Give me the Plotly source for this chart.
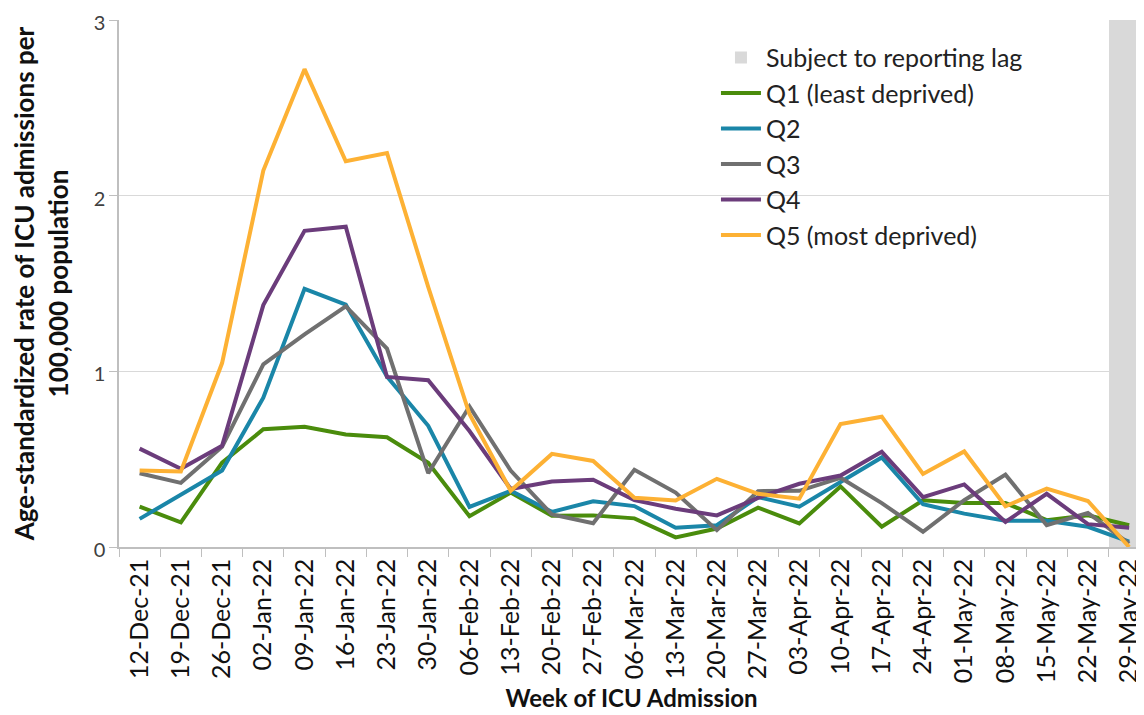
import plotly.graph_objects as go

weeks = ["12-Dec-21", "19-Dec-21", "26-Dec-21", "02-Jan-22", "09-Jan-22", "16-Jan-22",
         "23-Jan-22", "30-Jan-22", "06-Feb-22", "13-Feb-22", "20-Feb-22", "27-Feb-22",
         "06-Mar-22", "13-Mar-22", "20-Mar-22", "27-Mar-22", "03-Apr-22", "10-Apr-22",
         "17-Apr-22", "24-Apr-22", "01-May-22", "08-May-22", "15-May-22", "22-May-22",
         "29-May-22"]

q1 = [0.23, 0.14, 0.48, 0.67, 0.685, 0.64, 0.625, 0.48, 0.175, 0.31, 0.178, 0.18,
      0.163, 0.055, 0.105, 0.224, 0.134, 0.345, 0.115, 0.266, 0.25, 0.25, 0.153, 0.18, 0.124]
q2 = [0.16, 0.30, 0.435, 0.85, 1.47, 1.38, 0.97, 0.69, 0.228, 0.32, 0.20, 0.26,
      0.233, 0.11, 0.124, 0.284, 0.23, 0.37, 0.51, 0.243, 0.19, 0.149, 0.149, 0.115, 0.03]
q3 = [0.42, 0.365, 0.57, 1.04, 1.21, 1.37, 1.13, 0.42, 0.80, 0.435, 0.185, 0.135,
      0.44, 0.31, 0.096, 0.318, 0.32, 0.394, 0.25, 0.087, 0.266, 0.412, 0.124, 0.194, 0.02]
q4 = [0.56, 0.445, 0.576, 1.377, 1.80, 1.823, 0.968, 0.949, 0.66, 0.33, 0.373, 0.383,
      0.267, 0.218, 0.18, 0.28, 0.36, 0.407, 0.542, 0.284, 0.356, 0.143, 0.303, 0.13, 0.11]
q5 = [0.435, 0.43, 1.047, 2.143, 2.72, 2.196, 2.243, 1.48, 0.757, 0.32, 0.53, 0.49,
      0.28, 0.265, 0.388, 0.303, 0.275, 0.70, 0.742, 0.416, 0.544, 0.232, 0.332, 0.262, 0.0]

lag_weeks = ["29-May-22"]
lag_top = [3]

series = [
    ("Q1 (least deprived)", q1, "#4a8c0c"),
    ("Q2", q2, "#1a86a8"),
    ("Q3", q3, "#707070"),
    ("Q4", q4, "#6b3c7b"),
    ("Q5 (most deprived)", q5, "#fdb134"),
]

FONT = "Lato, 'Open Sans', sans-serif"

fig = go.Figure()
fig.add_trace(go.Bar(x=lag_weeks, y=lag_top, width=1, name="Subject to reporting lag",
                     marker=dict(color="#d9d9d9", line=dict(width=0)),
                     legendgroup="lag", hoverinfo="skip"))
for name, vals, color in series:
    fig.add_trace(go.Scatter(x=weeks, y=vals, mode="lines", name=name,
                             line=dict(color=color, width=4), legendgroup=name))

fig.update_layout(
    width=1136, height=707,
    margin=dict(l=111, r=0, t=12, b=168, autoexpand=False),
    paper_bgcolor="white", plot_bgcolor="white",
    font=dict(family=FONT, color="#222222"),
    showlegend=True,
    legend=dict(x=0.5824, y=0.972, xanchor="left", yanchor="top",
                font=dict(size=25, color="#222222", family=FONT),
                bgcolor="rgba(0,0,0,0)", tracegroupgap=0, traceorder="grouped",
                itemwidth=40),
    bargap=0,
)
fig.update_xaxes(
    type="category", categoryorder="array", categoryarray=weeks,
    range=[-0.5, 24.36], tickangle=-90, tickson="boundaries",
    ticks="outside", ticklen=8, tickcolor="#bfbfbf",
    showline=True, linecolor="#bfbfbf", linewidth=1.5,
    showgrid=False, tickfont=dict(size=25, color="#111111"),
    ticklabeloverflow="allow",
    title=dict(text="<b>Week of ICU Admission</b>", font=dict(size=24, color="#111111"), standoff=8),
)
fig.update_yaxes(
    range=[0, 3], tickvals=[0, 1, 2, 3], ticks="outside", ticklen=8, tickcolor="#bfbfbf",
    showline=True, linecolor="#bfbfbf", linewidth=1.5,
    showgrid=True, gridcolor="#d9d9d9", gridwidth=1.2, zeroline=False,
    tickfont=dict(size=20, color="#404040"),
    ticklabeloverflow="allow", ticklabelshift=3,
    title=dict(text="<b>Age-standardized rate of ICU admissions per<br>100,000 population</b>",
               font=dict(size=26, color="#111111"), standoff=30),
)

fig.write_html("out.html")
